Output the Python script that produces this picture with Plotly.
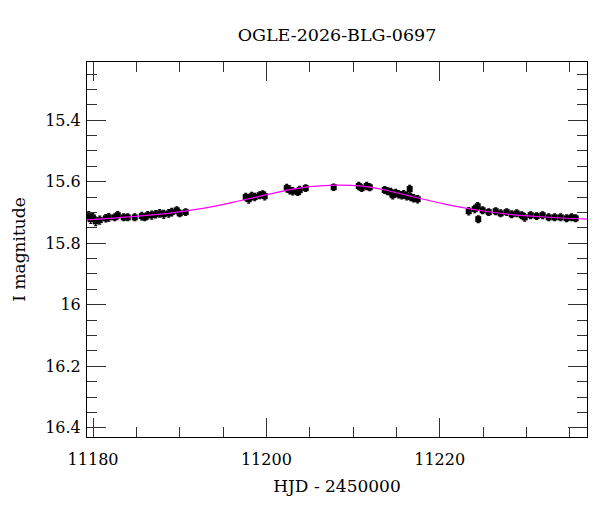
import plotly.graph_objects as go

# Observations (HJD - 2450000, I magnitude, error)
hjd = [
    11179.50, 11179.73, 11179.97, 11180.31, 11180.77, 11181.47, 11181.81, 11182.50,
    11182.85, 11183.54, 11184.00, 11184.81, 11185.62, 11185.97, 11186.31, 11186.77,
    11187.23, 11187.70, 11188.16, 11188.73, 11189.08, 11189.66, 11190.00, 11190.69,
    11197.62, 11197.96, 11198.31, 11198.65, 11199.23, 11199.58, 11199.81,
    11202.35, 11202.70, 11203.04, 11203.62, 11203.85, 11204.54,
    11207.77,
    11210.66, 11211.00, 11211.58, 11211.93,
    11213.66, 11214.00, 11214.35, 11214.58, 11214.93, 11215.27, 11215.62, 11215.85,
    11216.19, 11216.54, 11216.66, 11217.00, 11217.46,
    11223.35, 11224.04, 11224.39, 11224.45, 11224.96, 11225.66, 11226.46, 11227.04,
    11227.73, 11228.31, 11228.89, 11229.46, 11229.81, 11230.50, 11231.19, 11231.88,
    11232.58, 11233.27, 11233.96, 11234.65, 11235.23, 11235.69,
]
mag = [
    15.712, 15.722, 15.716, 15.729, 15.725, 15.719, 15.716, 15.716,
    15.709, 15.716, 15.716, 15.716, 15.712, 15.716, 15.709, 15.709,
    15.706, 15.703, 15.706, 15.703, 15.699, 15.693, 15.703, 15.699,
    15.650, 15.657, 15.647, 15.650, 15.644, 15.641, 15.647,
    15.621, 15.627, 15.631, 15.634, 15.627, 15.621,
    15.618,
    15.614, 15.621, 15.614, 15.618,
    15.627, 15.631, 15.634, 15.644, 15.637, 15.641, 15.644, 15.641,
    15.647, 15.624, 15.650, 15.654, 15.657,
    15.696, 15.689, 15.680, 15.722, 15.693, 15.699, 15.696, 15.703,
    15.699, 15.706, 15.703, 15.709, 15.716, 15.709, 15.712, 15.709,
    15.716, 15.716, 15.716, 15.719, 15.716, 15.719,
]
err = [
    0.015, 0.014, 0.013, 0.014, 0.013, 0.012, 0.012, 0.011,
    0.012, 0.011, 0.011, 0.011, 0.012, 0.011, 0.012, 0.013,
    0.012, 0.012, 0.013, 0.012, 0.012, 0.011, 0.011, 0.011,
    0.012, 0.013, 0.012, 0.012, 0.011, 0.011, 0.012,
    0.012, 0.013, 0.012, 0.011, 0.012, 0.011,
    0.010,
    0.012, 0.011, 0.012, 0.011,
    0.011, 0.011, 0.012, 0.012, 0.012, 0.012, 0.012, 0.012,
    0.012, 0.012, 0.012, 0.012, 0.012,
    0.012, 0.012, 0.012, 0.011, 0.011, 0.011, 0.011, 0.011,
    0.011, 0.011, 0.011, 0.011, 0.012, 0.011, 0.011, 0.011,
    0.011, 0.011, 0.011, 0.011, 0.011, 0.011,
]

# Model light curve
model_hjd = [11179.27, 11183.08, 11186.54, 11190.00, 11193.46, 11196.93, 11199.81,
             11202.73, 11205.04, 11208.27, 11210.80, 11213.69, 11216.58, 11220.62,
             11224.43, 11228.12, 11231.58, 11237.00]
model_mag = [15.724, 15.717, 15.709, 15.698, 15.683, 15.662, 15.644,
             15.626, 15.616, 15.611, 15.614, 15.627, 15.647, 15.673,
             15.693, 15.706, 15.714, 15.722]

title_text = "OGLE-2026-BLG-0697"
x_label = "HJD - 2450000"
y_label = "I magnitude"

FONT = "DejaVu Serif"

fig = go.Figure()
fig.add_trace(go.Scatter(
    x=hjd, y=mag, mode="markers",
    marker=dict(symbol="square", size=6, color="black", line=dict(width=0)),
    error_y=dict(type="data", array=err, visible=True, color="black", thickness=1.2, width=1.5),
    showlegend=False, hoverinfo="skip", cliponaxis=True,
))
fig.add_trace(go.Scatter(
    x=model_hjd, y=model_mag, mode="lines",
    line=dict(color="#ff00ff", width=1.2, shape="spline"),
    showlegend=False, hoverinfo="skip", cliponaxis=True,
))

axis_common = dict(
    showline=True, linecolor="black", linewidth=1, mirror="allticks",
    ticks="inside", ticklen=19, tickwidth=1, tickcolor="#333333",
    showgrid=False, zeroline=False, automargin=False,
    tickfont=dict(family=FONT, size=16, color="black"),
    title_font=dict(family=FONT, size=17, color="black"),
)

fig.update_xaxes(
    range=[11179.3, 11237.0], tick0=11180, dtick=20,
    tickformat="d", ticklabelstandoff=8,
    minor=dict(dtick=5, tick0=11180, ticks="inside", ticklen=10, tickcolor="#333333", showgrid=False),
    title_text=x_label, title_standoff=11,
    **axis_common,
)
fig.update_yaxes(
    range=[16.43, 15.211], tick0=15.4, dtick=0.2,
    ticklabelstandoff=2,
    minor=dict(dtick=0.05, tick0=15.4, ticks="inside", ticklen=10, tickcolor="#333333", showgrid=False),
    title_text=y_label, title_standoff=15,
    **axis_common,
)

fig.update_layout(
    width=600, height=512,
    margin=dict(l=79, r=21, t=54, b=83, autoexpand=False),
    paper_bgcolor="white", plot_bgcolor="white",
    title=dict(text=title_text, x=0.5, xref="paper", xanchor="center",
               y=1 - 27 / 512, yref="container", yanchor="middle", automargin=False,
               font=dict(family=FONT, size=17.5, color="black")),
)

fig.write_html("out.html")
